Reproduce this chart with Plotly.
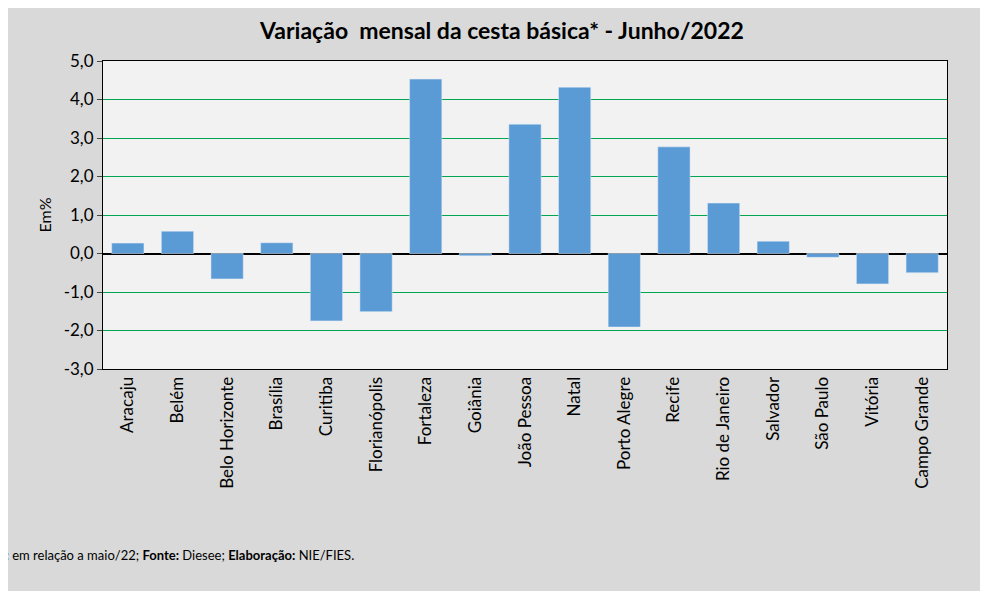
import plotly.graph_objects as go

cities = ["Aracaju","Belém","Belo Horizonte","Brasília","Curitiba","Florianópolis","Fortaleza","Goiânia","João Pessoa","Natal","Porto Alegre","Recife","Rio de Janeiro","Salvador","São Paulo","Vitória","Campo Grande"]
values = [0.27,0.58,-0.66,0.28,-1.75,-1.51,4.53,-0.06,3.36,4.32,-1.91,2.77,1.31,0.32,-0.10,-0.79,-0.50]
yticks = [5,4,3,2,1,0,-1,-2,-3]
ylabels = ["5,0","4,0","3,0","2,0","1,0","0,0","-1,0","-2,0","-3,0"]

fig = go.Figure(go.Bar(x=cities, y=values, marker_color="#5b9bd5", width=0.65))
fig.update_layout(
    width=988, height=591, paper_bgcolor="#d9d9d9", plot_bgcolor="#f2f2f2",
    font=dict(family="Lato", size=17, color="black"),
    margin=dict(l=95, r=49, t=53, b=230),
    title=dict(text="<b>Variação  mensal da cesta básica* - Junho/2022</b>", x=0.5, xanchor="center", y=0.975, font=dict(size=23)),
    showlegend=False,
    annotations=[dict(text="<b>*:</b> em relação a maio/22; <b>Fonte:</b> Diesee; <b>Elaboração:</b> NIE/FIES.",
                      xref="paper", yref="paper", x=-0.124, y=-0.603, xanchor="left", yanchor="middle",
                      showarrow=False, font=dict(size=13))],
)
fig.update_yaxes(range=[-3,5], tickvals=yticks, ticktext=ylabels, gridcolor="#00a650", gridwidth=1.2,
                 showline=True, linecolor="black", mirror=True, zeroline=True, zerolinecolor="black",
                 ticks="outside", ticklen=5, title=dict(text="Em%", standoff=8, font=dict(size=16)))
fig.update_xaxes(tickangle=-90, showline=True, linecolor="black", mirror=True, ticks="", tickfont=dict(size=17))
fig.write_html("out.html")
